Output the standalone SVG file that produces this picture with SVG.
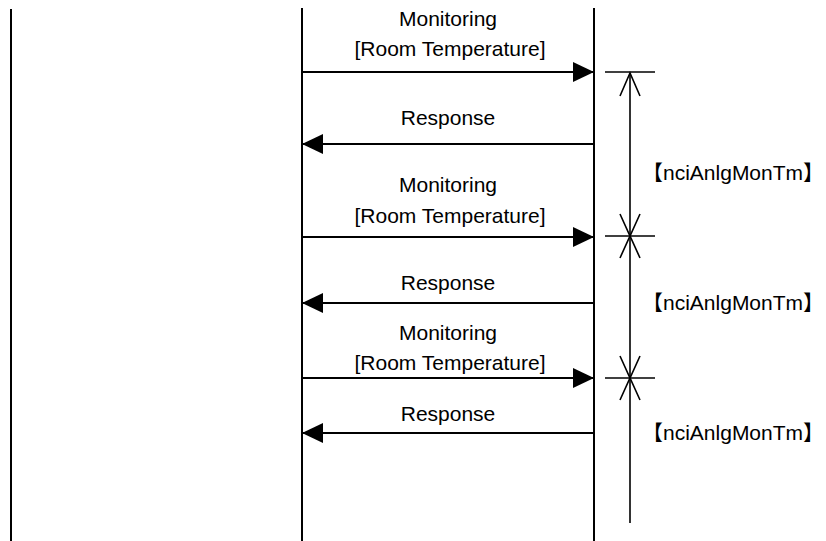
<svg xmlns="http://www.w3.org/2000/svg" width="826" height="541" viewBox="0 0 826 541">
<defs>
<marker id="ah" markerWidth="22" markerHeight="20" refX="21" refY="10" orient="auto" markerUnits="userSpaceOnUse">
<path d="M0,0 L21,10 L0,20 Z" fill="#000"/>
</marker>
<style>
.ln{stroke:#000;stroke-width:2;fill:none}
.thin{stroke:#000;stroke-width:1.6;fill:none}
.t{font-family:"Liberation Sans",Arial,"Noto Sans CJK JP",sans-serif;font-size:21px;fill:#000}
.c{text-anchor:middle}
</style>
</defs>
<rect width="826" height="541" fill="#fff"/>
<g id="lifelines">
<line class="ln" x1="11" y1="9" x2="11" y2="541"/>
<line class="ln" x1="302" y1="8" x2="302" y2="541"/>
<line class="ln" x1="594" y1="8" x2="594" y2="541"/>
</g>
<g id="connectors">
<line class="ln" x1="302" y1="72" x2="594" y2="72" marker-end="url(#ah)"/>
<line class="ln" x1="594" y1="144" x2="302" y2="144" marker-end="url(#ah)"/>
<line class="ln" x1="302" y1="237" x2="594" y2="237" marker-end="url(#ah)"/>
<line class="ln" x1="594" y1="303" x2="302" y2="303" marker-end="url(#ah)"/>
<line class="ln" x1="302" y1="378" x2="594" y2="378" marker-end="url(#ah)"/>
<line class="ln" x1="594" y1="433" x2="302" y2="433" marker-end="url(#ah)"/>
</g>
<g id="labels">
<text class="t c" x="448" y="26">Monitoring</text>
<text class="t c" x="450" y="56">[Room Temperature]</text>
<text class="t c" x="448" y="125">Response</text>
<text class="t c" x="448" y="192">Monitoring</text>
<text class="t c" x="450" y="223">[Room Temperature]</text>
<text class="t c" x="448" y="290">Response</text>
<text class="t c" x="448" y="340">Monitoring</text>
<text class="t c" x="450" y="370">[Room Temperature]</text>
<text class="t c" x="448" y="421">Response</text>
</g>
<g id="dimension">
<line class="thin" x1="630" y1="73" x2="630" y2="523"/>
<line class="thin" x1="605" y1="72" x2="655" y2="72"/>
<line class="thin" x1="605" y1="236" x2="655" y2="236"/>
<line class="thin" x1="605" y1="378" x2="655" y2="378"/>
<polyline class="thin" points="620,96 630,73 640,96"/>
<polyline class="thin" points="620,214 630,236 640,214"/>
<polyline class="thin" points="620,258 630,236 640,258"/>
<polyline class="thin" points="620,356 630,378 640,356"/>
<polyline class="thin" points="620,400 630,378 640,400"/>
<text class="t" x="642" y="180">【nciAnlgMonTm】</text>
<text class="t" x="642" y="310">【nciAnlgMonTm】</text>
<text class="t" x="642" y="440">【nciAnlgMonTm】</text>
</g>
</svg>
